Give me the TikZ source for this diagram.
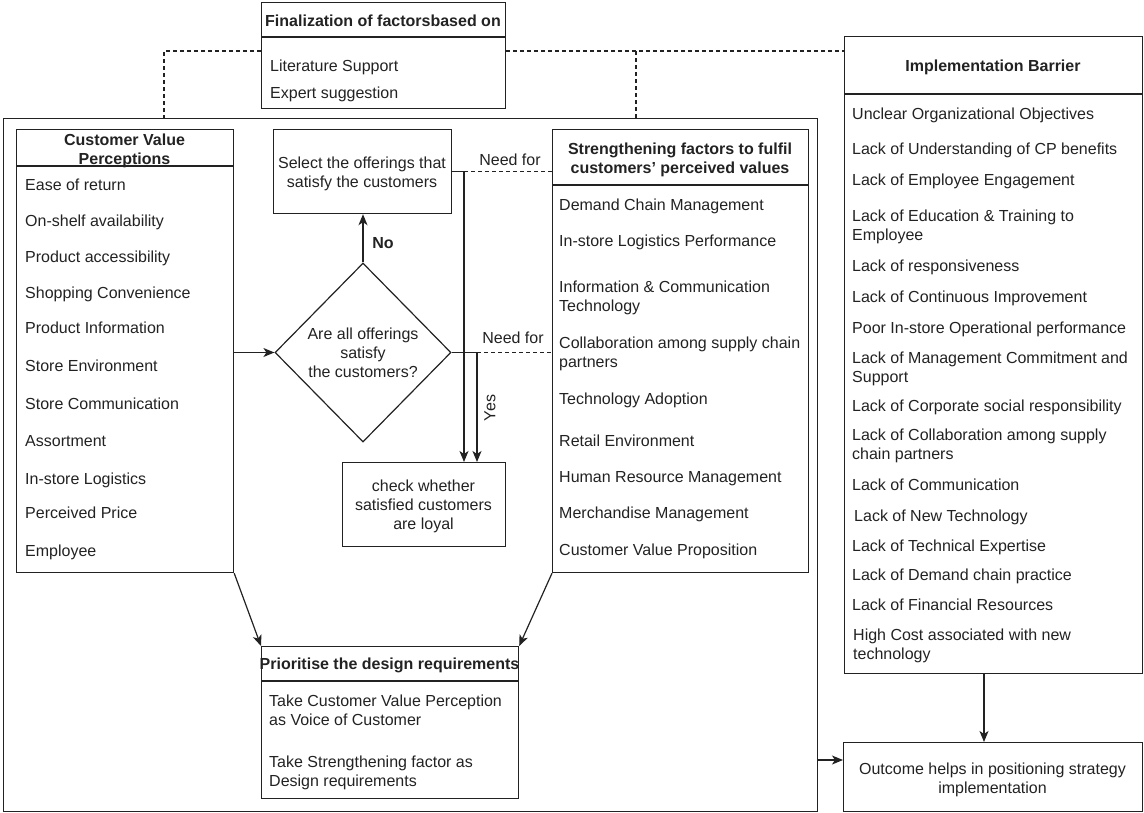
\documentclass[tikz,border=0pt]{standalone}
\usepackage{fontspec}
\setmainfont{Liberation Sans}
\usetikzlibrary{shapes.geometric,arrows.meta}
\definecolor{ink}{RGB}{34,34,34}
\begin{document}
\begin{tikzpicture}[x=1pt,y=-1pt,
  box/.style={draw=ink, line width=1.2pt, inner sep=0pt, anchor=north west},
  item/.style={anchor=base west, inner sep=0pt, text=ink, align=left,
               font=\fontsize{16}{19}\selectfont},
  body/.style={anchor=base, inner sep=0pt, text=ink, align=center,
               font=\fontsize{16}{19}\selectfont},
  head/.style={anchor=base, inner sep=0pt, text=ink, align=center,
               font=\fontsize{16}{19}\selectfont\bfseries},
  link/.style={draw=ink, line width=1.2pt},
  arr/.style={draw=ink, line width=1.2pt, -{Stealth[length=11pt,width=9pt,inset=3pt]}},
  dashlink/.style={draw=ink, line width=1.2pt, dash pattern=on 4pt off 3pt}]
\useasboundingbox (0,0) rectangle (1144,812);

% ---------- frames ----------
\node[box, minimum width=244pt, minimum height=106pt] (fin) at (261,2) {};
\node[box, minimum width=814pt, minimum height=693pt] (main) at (3,118) {};
\node[box, minimum width=217pt, minimum height=443pt] (cvp) at (16,129) {};
\node[box, minimum width=178pt, minimum height=84pt] (sel) at (273,129) {};
\node[draw=ink, line width=1.2pt, diamond, inner sep=0pt,
      minimum width=176pt, minimum height=179pt] (dec) at (363,352.5) {};
\node[box, minimum width=163pt, minimum height=84pt] (chk) at (342,462) {};
\node[box, minimum width=256pt, minimum height=443pt] (str) at (552,129) {};
\node[box, minimum width=257pt, minimum height=152pt] (pri) at (261,646) {};
\node[box, minimum width=298pt, minimum height=637pt] (imp) at (844,36) {};
\node[box, minimum width=299pt, minimum height=69pt] (out) at (843,742) {};

% header separators
\draw[link] (fin.west |- 0,37) -- (fin.east |- 0,37);
\draw[link] (cvp.west |- 0,166) -- (cvp.east |- 0,166);
\draw[link] (str.west |- 0,185) -- (str.east |- 0,185);
\draw[link] (pri.west |- 0,681) -- (pri.east |- 0,681);
\draw[link] (imp.west |- 0,94) -- (imp.east |- 0,94);

% ---------- finalization ----------
% (multi-line texts are placed by the baseline of their last line)
\node[head] (finT) at (383,26) {Finalization of factorsbased on};
\node[item] (fin1) at (270,71) {Literature Support};
\node[item] (fin2) at (270,98) {Expert suggestion};

% ---------- customer value perceptions ----------
\node[head] (cvpT) at (124.5,164) {Customer Value\\Perceptions};
\node[item] (cvp1) at (25,190) {Ease of return};
\node[item] (cvp2) at (25,226) {On-shelf availability};
\node[item] (cvp3) at (25,262) {Product accessibility};
\node[item] (cvp4) at (25,298) {Shopping Convenience};
\node[item] (cvp5) at (25,333) {Product Information};
\node[item] (cvp6) at (25,371) {Store Environment};
\node[item] (cvp7) at (25,409) {Store Communication};
\node[item] (cvp8) at (25,446) {Assortment};
\node[item] (cvp9) at (25,484) {In-store Logistics};
\node[item] (cvp10) at (25,518) {Perceived Price};
\node[item] (cvp11) at (25,556) {Employee};

% ---------- decision flow ----------
\node[body] (selT) at (362,187) {Select the offerings that\\satisfy the customers};
\node[body] (decT) at (363,377) {Are all offerings\\satisfy\\the customers?};
\node[body] (chkT) at (423.5,529) {check whether\\satisfied customers\\are loyal};

% ---------- strengthening factors ----------
\node[head] (strT) at (680,173) {Strengthening factors to fulfil\\customers' perceived values};
\node[item] (str1) at (559,210) {Demand Chain Management};
\node[item] (str2) at (559,246) {In-store Logistics Performance};
\node[item] (str3) at (559,311) {Information \& Communication\\Technology};
\node[item] (str4) at (559,367) {Collaboration among supply chain\\partners};
\node[item] (str5) at (559,404) {Technology Adoption};
\node[item] (str6) at (559,446) {Retail Environment};
\node[item] (str7) at (559,482) {Human Resource Management};
\node[item] (str8) at (559,518) {Merchandise Management};
\node[item] (str9) at (559,555) {Customer Value Proposition};

% ---------- prioritisation ----------
\node[head] (priT) at (389.5,669) {Prioritise the design requirements};
\node[item] (pri1) at (269,725) {Take Customer Value Perception\\as Voice of Customer};
\node[item] (pri2) at (269,786) {Take Strengthening factor as\\Design requirements};

% ---------- implementation barrier ----------
\node[head] (impT) at (993,71) {Implementation Barrier};
\node[item] (imp1) at (852,119) {Unclear Organizational Objectives};
\node[item] (imp2) at (852,154) {Lack of Understanding of CP benefits};
\node[item] (imp3) at (852,185) {Lack of Employee Engagement};
\node[item] (imp4) at (852,240) {Lack of Education \& Training to\\Employee};
\node[item] (imp5) at (852,271) {Lack of responsiveness};
\node[item] (imp6) at (852,302) {Lack of Continuous Improvement};
\node[item] (imp7) at (852,333) {Poor In-store Operational performance};
\node[item] (imp8) at (852,382) {Lack of Management Commitment and\\Support};
\node[item] (imp9) at (852,411) {Lack of Corporate social responsibility};
\node[item] (imp10) at (852,459) {Lack of Collaboration among supply\\chain partners};
\node[item] (imp11) at (852,490) {Lack of Communication};
\node[item] (imp12) at (854,521) {Lack of New Technology};
\node[item] (imp13) at (852,551) {Lack of Technical Expertise};
\node[item] (imp14) at (852,580) {Lack of Demand chain practice};
\node[item] (imp15) at (852,610) {Lack of Financial Resources};
\node[item] (imp16) at (853,659) {High Cost associated with new\\technology};

% ---------- outcome ----------
\node[body] (outT) at (992.5,793) {Outcome helps in positioning strategy\\implementation};

% ---------- connectors ----------
\draw[dashlink] (fin.west |- 0,51) -| (main.north -| 164,0);
\draw[dashlink] (fin.east |- 0,51) -- (imp.west |- 0,51);
\coordinate (topdrop) at (636,51);
\draw[dashlink] (topdrop) -- (main.north -| topdrop);

\draw[arr] (cvp.east |- dec.west) -- (dec.west);
\draw[arr] (dec.north) -- (dec.north |- sel.south);
\node[head] (noL) at (383,248) {No};

\coordinate (selturn) at (sel.east -| 464,0);
\draw[arr] (sel.east) -- (selturn) -- (selturn |- chk.north);
\draw[dashlink] (selturn) -- (selturn -| str.west);
\node[body] (need1) at (510,165) {Need for};

\coordinate (decturn) at (dec.east -| 477,0);
\draw[arr] (dec.east) -- (decturn) -- (decturn |- chk.north);
\draw[dashlink] (decturn) -- (decturn -| str.west);
\node[body] (need2) at (513,343) {Need for};
\node[inner sep=0pt, text=ink, font=\fontsize{16}{19}\selectfont, rotate=90] (yesL) at (490,408) {Yes};

\draw[arr] (cvp.south east) -- (pri.north west);
\draw[arr] (str.south west) -- (pri.north east);

\draw[arr] (imp.south -| 984,0) -- (out.north -| 984,0);
\draw[arr] (main.east |- 0,760) -- (out.west |- 0,760);
\end{tikzpicture}
\end{document}
